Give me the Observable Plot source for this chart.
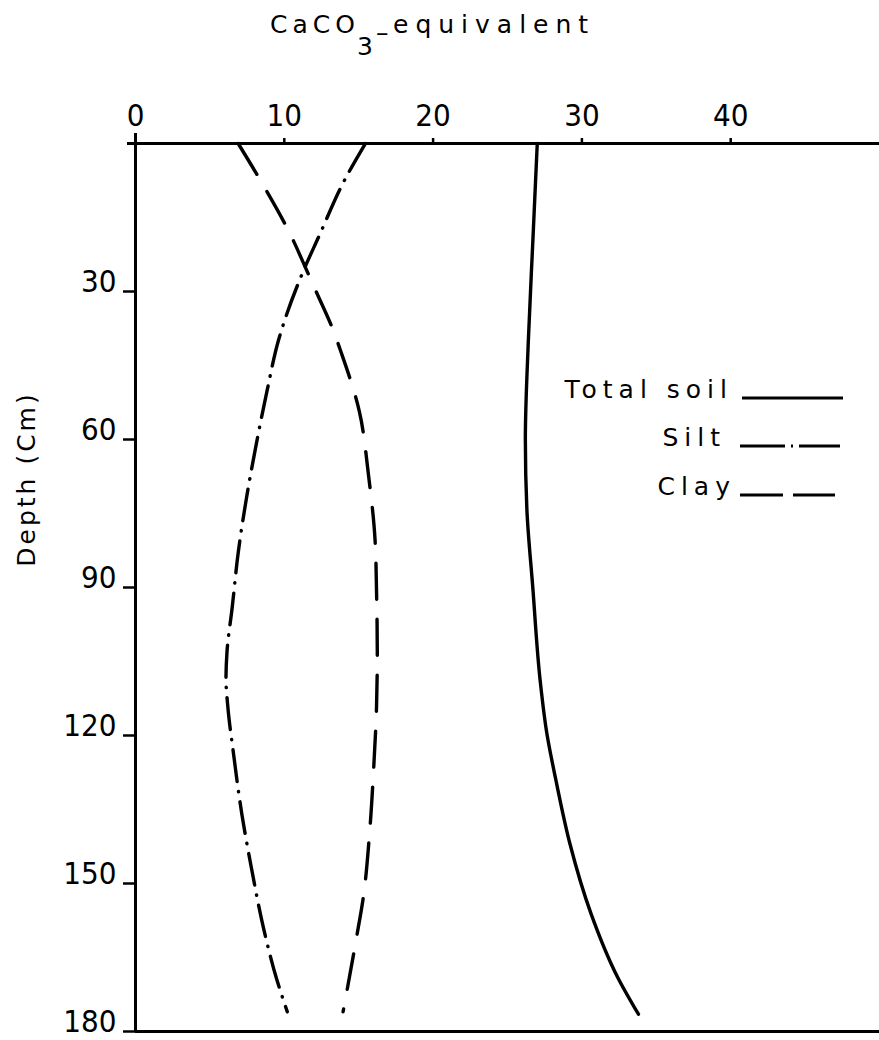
<!DOCTYPE html>
<html>
<head>
<meta charset="utf-8">
<script src="https://cdn.jsdelivr.net/npm/d3@7"></script>
<script src="https://cdn.jsdelivr.net/npm/@observablehq/plot@0.6"></script>
<style>
  html, body { margin: 0; padding: 0; background: #fff; }
  #chart svg { display: block; }
</style>
</head>
<body>
<div id="chart"></div>
<script>
// CaCO3-equivalent (%) down the soil profile, depth in cm
const totalDepth = [0, 20, 40, 60, 74, 90, 109, 119.5, 129, 142, 156, 169, 176.5];
const totalValue = [27.0, 26.7, 26.4, 26.2, 26.3, 26.7, 27.2, 27.64, 28.25, 29.2, 30.6, 32.4, 33.8];

const siltDepth = [0, 8, 19, 25, 40, 50, 62, 72, 83, 94, 103, 108.5, 114, 124, 136, 147, 159, 169.5, 176];
const siltValue = [15.45, 13.95, 12.3, 11.4, 9.6, 8.85, 8.05, 7.45, 6.9, 6.5, 6.15, 6.08, 6.2, 6.6, 7.15, 7.8, 8.6, 9.5, 10.2];

const clayDepth = [0, 7.5, 19, 25, 30.4, 37.2, 42.6, 54.4, 67, 80.4, 91, 103, 114, 127, 139, 153, 161, 176];
const clayValue = [6.9, 8.4, 10.5, 11.4, 12.2, 13.2, 13.85, 15.05, 15.65, 16.1, 16.2, 16.25, 16.2, 16.0, 15.75, 15.3, 14.85, 13.95];

const seriesNames = ["Total soil", "Silt", "Clay"];
const valueTicks = [0, 10, 20, 30, 40];
const depthTicks = [30, 60, 90, 120, 150, 180];
const depthLabel = "Depth (Cm)";

const rows = (depths, values, series) => depths.map((depth, i) => ({series, depth, value: values[i]}));
const total = rows(totalDepth, totalValue, seriesNames[0]);
const silt = rows(siltDepth, siltValue, seriesNames[1]);
const clay = rows(clayDepth, clayValue, seriesNames[2]);

const FONT = "DejaVu Sans, sans-serif";
const dashSilt = "32,10,0.5,10";
const dashClay = "36,20";

const chart = Plot.plot({
  width: 879,
  height: 1040,
  marginLeft: 135,
  marginRight: 0,
  marginTop: 143,
  marginBottom: 9,
  style: {fontFamily: FONT, fontSize: "31px", fontStretch: "condensed", color: "#000", background: "#fff"},
  x: {domain: [0, 50]},
  y: {domain: [0, 180], reverse: true},
  marks: [
    Plot.axisX({anchor: "top", ticks: valueTicks, tickSize: 6, tickPadding: 12, strokeWidth: 2.5, label: null, fontSize: 31}),
    Plot.axisY({anchor: "left", ticks: depthTicks, tickSize: 12, tickPadding: 7, lineAnchor: "bottom", strokeWidth: 2.5, label: null, fontSize: 31}),
    Plot.ruleX([0], {strokeWidth: 3, insetTop: -10}),
    Plot.ruleY([0], {strokeWidth: 3, insetLeft: -8}),
    Plot.ruleY([180], {strokeWidth: 3}),
    Plot.line(total, {x: "value", y: "depth", curve: "monotone-y", strokeWidth: 3.4}),
    Plot.line(silt, {x: "value", y: "depth", curve: "monotone-y", strokeWidth: 3.4, strokeDasharray: dashSilt, strokeLinecap: "round"}),
    Plot.line(clay, {x: "value", y: "depth", curve: "monotone-y", strokeWidth: 3.4, strokeDasharray: dashClay, strokeLinecap: "round"})
  ]
});

document.getElementById("chart").appendChild(chart);

const svg = d3.select(chart);

// Depth axis title, rotated along the left edge
svg.append("text")
  .attr("font-family", FONT).attr("font-size", 25).attr("font-stretch", "normal").attr("fill", "#000")
  .attr("text-anchor", "middle")
  .attr("letter-spacing", 3)
  .attr("transform", "translate(35,479) rotate(-90)")
  .text(depthLabel);

// Title: CaCO3-equivalent, with the 3 set as a subscript
const title = svg.append("text")
  .attr("font-family", FONT).attr("font-size", 25).attr("font-stretch", "normal").attr("fill", "#000")
  .attr("text-anchor", "start")
  .attr("x", 270).attr("y", 33);
title.append("tspan").attr("letter-spacing", 5).text("CaCO");
title.append("tspan").attr("x", 357).attr("y", 55).text("3");
title.append("tspan").attr("x", 376).attr("y", 41).text("–");
title.append("tspan").attr("x", 393).attr("y", 33).attr("letter-spacing", 7).text("equivalent");

// Legend: label followed by a sample of the line style
const legend = svg.append("g")
  .attr("font-family", FONT).attr("font-size", 25).attr("font-stretch", "normal").attr("fill", "#000");
const legendRows = [
  {name: seriesNames[0], right: 727, base: 398, x1: 742, x2: 843, dash: null},
  {name: seriesNames[1], right: 720, base: 446, x1: 740, x2: 840, dash: "45,6,2,6,60"},
  {name: seriesNames[2], right: 730, base: 495, x1: 740, x2: 835, dash: "43,10,60"}
];
for (const r of legendRows) {
  legend.append("text")
    .attr("x", r.right + 6).attr("y", r.base)
    .attr("text-anchor", "end")
    .attr("letter-spacing", 6)
    .text(r.name);
  legend.append("line")
    .attr("x1", r.x1).attr("x2", r.x2)
    .attr("y1", r.base).attr("y2", r.base)
    .attr("stroke", "#000").attr("stroke-width", 3)
    .attr("stroke-dasharray", r.dash);
}
</script>
</body>
</html>
